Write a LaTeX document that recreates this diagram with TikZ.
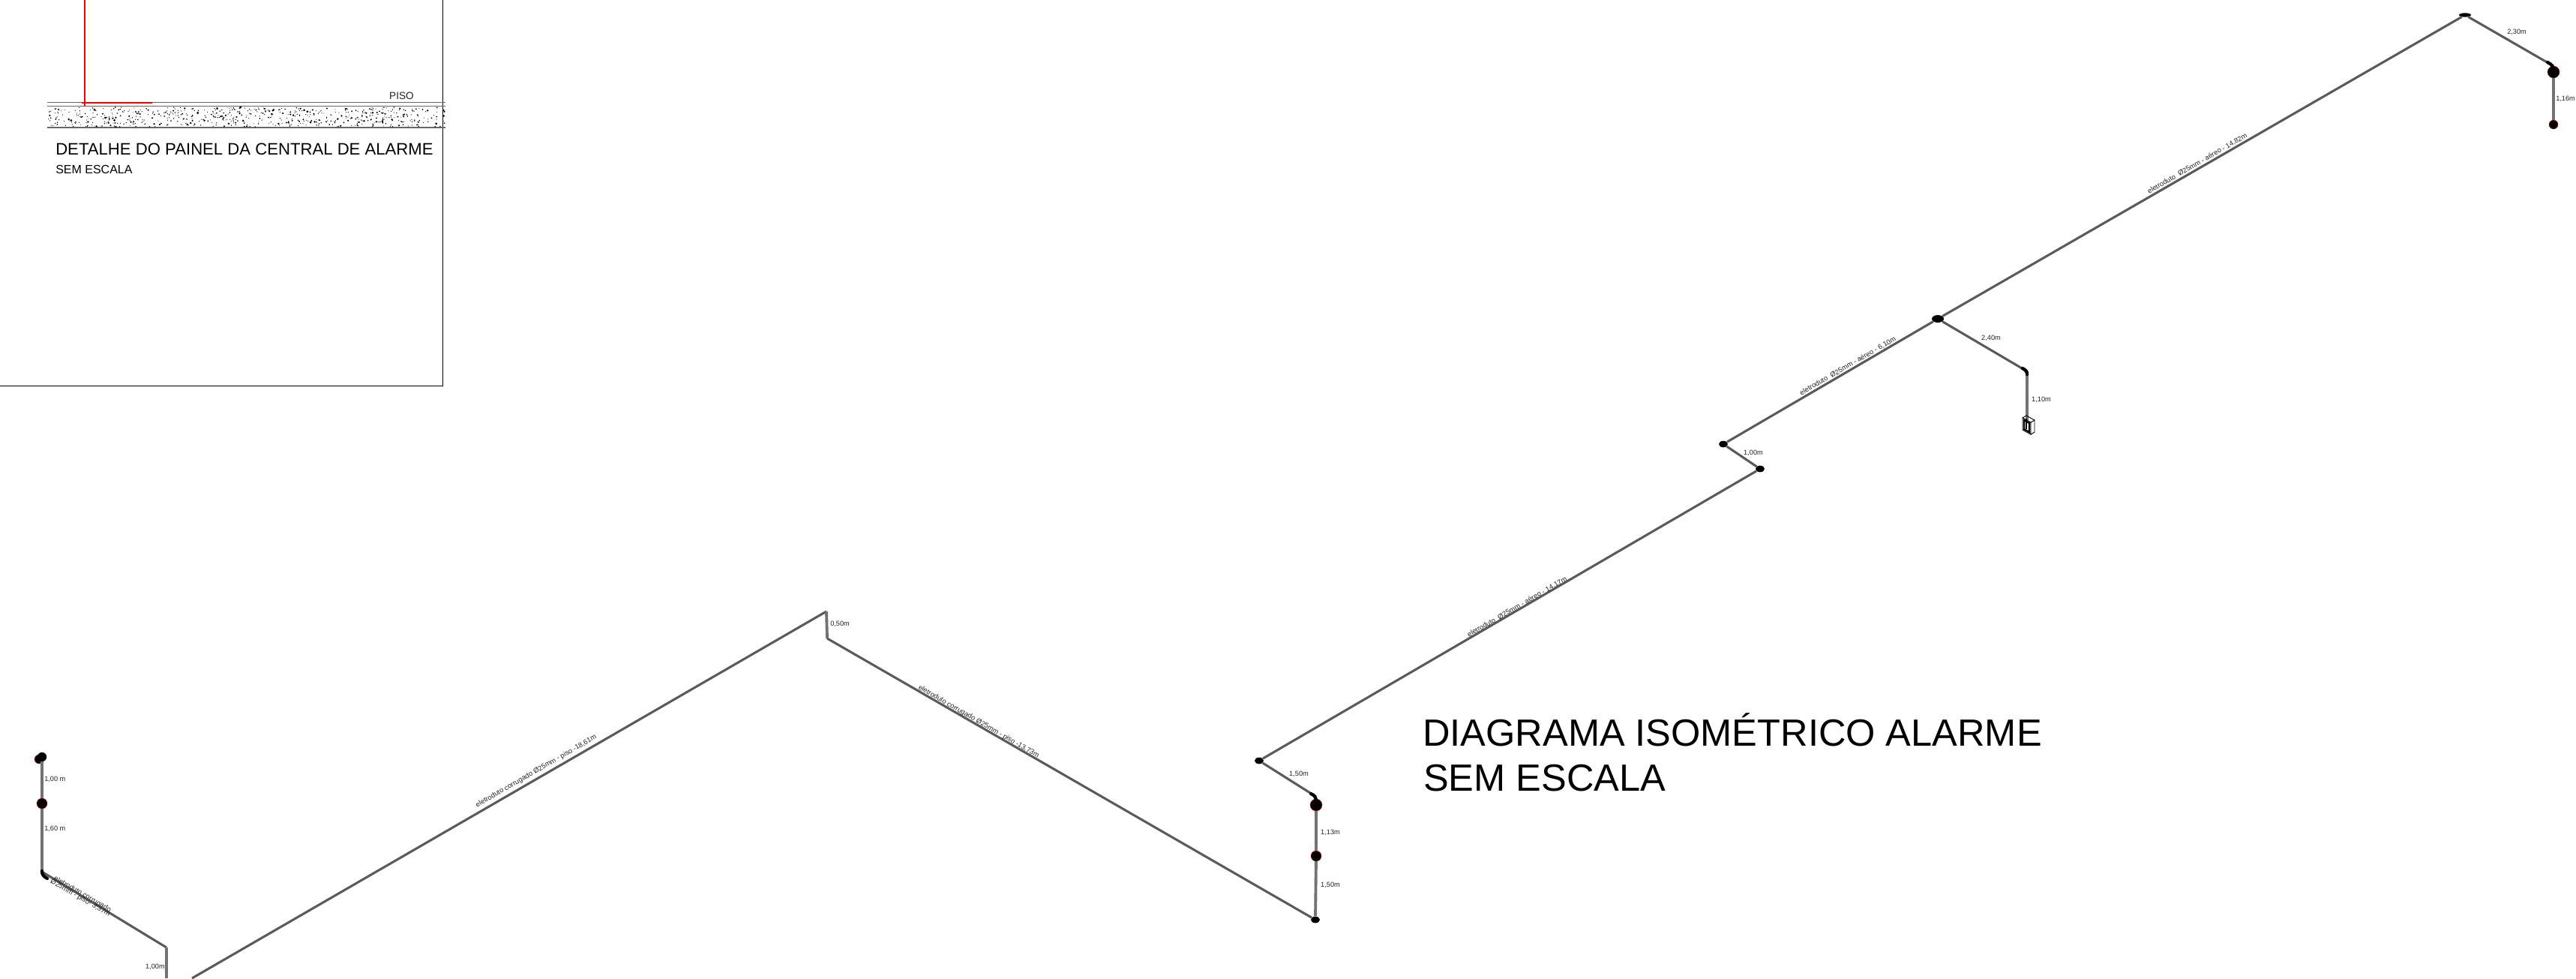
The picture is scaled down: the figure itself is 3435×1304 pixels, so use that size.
\documentclass[tikz,border=0pt]{standalone}
\usepackage{xcolor}
\usepackage{fontspec}
\setmainfont{Liberation Sans}
\usepackage{tikz}
\usetikzlibrary{shapes.geometric}
\definecolor{pipegrey}{RGB}{90,90,90}
\definecolor{labelgrey}{RGB}{35,35,35}
\definecolor{alarmred}{RGB}{240,0,0}
\tikzset{
  pipe/.style={draw=pipegrey,line width=2.3pt},
  riser/.style={draw=pipegrey!85,line width=2.9pt},
  elbow/.style={draw=black,line width=3.2pt,line cap=round},
  joint/.style={ellipse,fill=black,inner sep=0pt,minimum width=9pt,minimum height=6.5pt},
  sensor/.style={circle,fill=black,draw=alarmred,line width=0.2pt,inner sep=0pt,minimum size=10.5pt},
  measure/.style={inner sep=0.75pt,text=labelgrey,font=\fontsize{6.9}{8}\selectfont},
  conduit/.style={inner sep=0.75pt,text=labelgrey,font=\fontsize{7}{8}\selectfont},
  slab/.style={draw=black!60,line width=0.9pt},
}
\begin{document}
\begin{tikzpicture}[x=0.75pt,y=0.75pt,yscale=-1,xscale=1]
        \clip (0,0) rectangle (3435,1304);
        \fill[white] (0,0) rectangle (3435,1304);

        % detalhe do painel
        \draw [line width=0.65pt] (0,514.5) -- (590,514.5) -- (590,0);
        \draw [slab] (63,136.5) -- (594,136.5);
        \draw [slab] (63,141.5) -- (594,141.5);
        \draw [slab] (63,170) -- (594,170);
        \pgfmathsetseed{1204}
        \foreach \i in {1,...,650} {
          \pgfmathsetmacro{\px}{64+rnd*529}
          \pgfmathsetmacro{\py}{143+rnd*26}
          \pgfmathsetmacro{\pr}{0.5+1.1*rnd*rnd}
          \fill [black] (\px,\py) circle [radius=\pr];
        }
        \draw [alarmred,line width=1pt] (113,0) -- (113,141);
        \draw [alarmred,line width=1pt] (109,137) -- (203,137);
        \node (piso) [anchor=east,inner sep=0.75pt,text=labelgrey,font=\fontsize{10.2}{13}\selectfont] at (553,128) {PISO};
        \node (detalhe) [anchor=west,inner sep=0.75pt,font=\fontsize{16.6}{20}\selectfont] at (73,199) {DETALHE DO PAINEL DA CENTRAL DE ALARME};
        \node (semescalaA) [anchor=west,inner sep=0.75pt,font=\fontsize{12}{14}\selectfont] at (73,226) {SEM ESCALA};

        % pontos da tubulacao
        \node (topA) [sensor,minimum size=9pt] at (52,1012) {};
        \node (topAA) [sensor,draw=black,minimum size=9pt] at (56,1009) {};
        \node (midA) [sensor] at (56,1071) {};
        \coordinate (bendA) at (56,1162);
        \coordinate (bendB) at (222,1263);
        \coordinate (cutB) at (222,1304);
        \coordinate (cutC) at (256,1304);
        \coordinate (peakC) at (1102,815);
        \coordinate (footC) at (1103,851);
        \node (lowD) [joint] at (1754,1226) {};
        \node (midD) [sensor] at (1755,1141) {};
        \node (topD) [sensor,minimum size=12pt] at (1755,1073) {};
        \coordinate (bendD) at (1755,1062);
        \node (turnE) [joint] at (1679,1014) {};
        \node (turnF) [joint] at (2347,625) {};
        \node (turnG) [joint] at (2298,592) {};
        \node (tee) [joint,minimum width=12pt,minimum height=7.5pt] at (2584,425) {};
        \coordinate (bendH) at (2703,495);
        \coordinate (panel) at (2703,560);
        \node (peakJ) [joint,minimum width=12pt,minimum height=4pt] at (3287,20) {};
        \coordinate (bendK) at (3405,88);
        \node (topK) [sensor,minimum size=12pt] at (3405,96) {};
        \node (endK) [sensor,minimum size=9pt] at (3405,166) {};

        % tubulacao
        \draw [riser] (topAA) -- (midA) -- (bendA);
        \draw [pipe] (bendA) -- (bendB);
        \draw [riser] (bendB) -- (cutB);
        \draw [pipe] (cutC) -- (peakC);
        \draw [riser] (peakC) -- (footC);
        \draw [pipe] (footC) -- (lowD);
        \draw [riser] (lowD) -- (midD) -- (topD);
        \draw [pipe] (bendD) -- (turnE) -- (turnF) -- (turnG) -- (tee) -- (peakJ) -- (bendK);
        \draw [riser] (topK) -- (endK);
        \draw [pipe] (tee) -- (bendH);
        \draw [riser] (bendH) -- (panel);

        % curvas
        \draw [elbow] (56,1161) .. controls (56,1166) and (58,1168) .. (63,1171);
        \draw [elbow] (3397,83) .. controls (3403,86) and (3405,89) .. (3405,94);
        \draw [elbow] (1748,1058) .. controls (1753,1060) and (1755,1063) .. (1755,1069);
        \draw [elbow] (2697,491) .. controls (2701,493) and (2703,495) .. (2703,499);

        % quadro
        \draw [black,fill=white,line width=0.7pt] (2697,557) -- (2708,563) -- (2708,579) -- (2697,573) -- cycle;
        \draw [black,fill=white,line width=0.7pt] (2708,563) -- (2713,560) -- (2713,576) -- (2708,579) -- cycle;
        \draw [black,line width=0.7pt] (2697,557) -- (2702,554) -- (2713,560);
        \draw [black,line width=1.6pt] (2699,560) -- (2706,564) -- (2706,576) -- (2699,572) -- cycle;
        \draw [black,line width=1.6pt] (2702,558) -- (2702,572);

        % cotas
        \node (cotaA) [measure,anchor=west] at (58,1039) {1,00 m};
        \node (cotaB) [measure,anchor=west] at (58,1105) {1,60 m};
        \node (cotaC) [measure,anchor=east] at (221,1289) {1,00m};
        \node (cotaD) [measure,anchor=west] at (1106,832) {0,50m};
        \node (cotaE) [measure] at (1732,1032) {1,50m};
        \node (cotaF) [measure] at (1774,1110) {1,13m};
        \node (cotaG) [measure] at (1774,1180) {1,50m};
        \node (cotaH) [measure] at (2338,604) {1,00m};
        \node (cotaJ) [measure] at (2655,451) {2,40m};
        \node (cotaK) [measure] at (2722,533) {1,10m};
        \node (cotaL) [measure] at (3356,43) {2,30m};
        \node (cotaM) [measure] at (3421,132) {1,16m};

        % eletrodutos
        \node (tuboA) [conduit,rotate=-30] at (110,1192) {eletroduto corrugado};
        \node (tuboB) [conduit,rotate=-30] at (107,1197) {Ø25mm - piso- 3,37m};
        \node (tuboC) [conduit,rotate=30] at (715,1028) {eletroduto corrugado Ø25mm - piso -18,61m};
        \node (tuboD) [conduit,rotate=-30] at (1305,962) {eletroduto corrugado Ø25mm - piso -13,73m};
        \node (tuboE) [conduit,rotate=30] at (2023,809) {eletroduto\ \ Ø25mm - aéreo - 14,17m};
        \node (tuboF) [conduit,rotate=30] at (2464,488) {eletroduto\ \ Ø25mm - aéreo - 6,10m};
        \node (tuboG) [conduit,rotate=30] at (2930,218) {eletroduto\ \ Ø25mm - aéreo - 14,82m};

        % titulo
        \node (titulo) [anchor=west,inner sep=0.75pt,font=\fontsize{37.9}{44}\selectfont] at (1896,973) {DIAGRAMA ISOMÉTRICO ALARME};
        \node (semescalaB) [anchor=west,inner sep=0.75pt,font=\fontsize{37.9}{44}\selectfont] at (1897,1037) {SEM ESCALA};
\end{tikzpicture}
\end{document}
